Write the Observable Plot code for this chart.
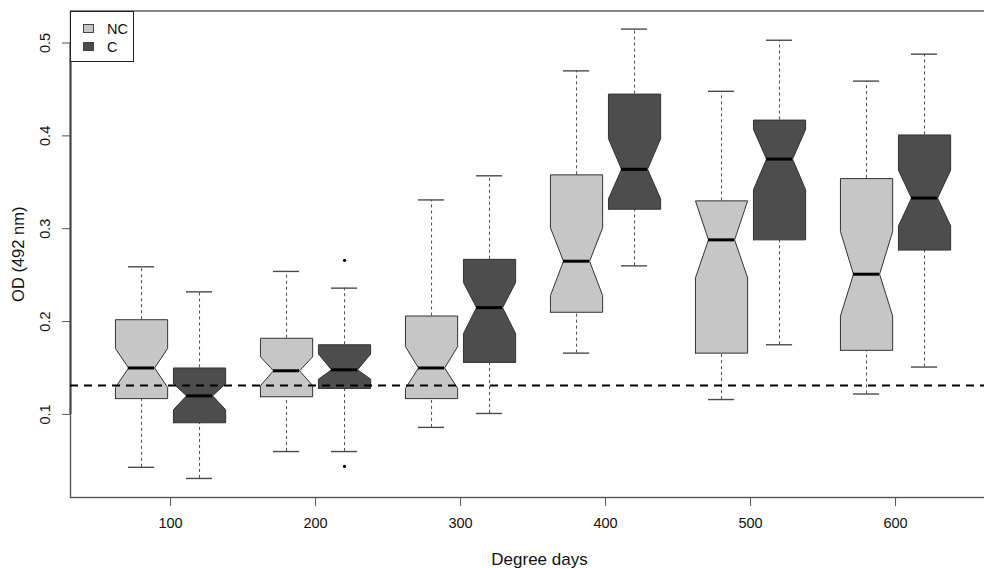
<!DOCTYPE html>
<html>
<head>
<meta charset="utf-8">
<script src="https://cdn.jsdelivr.net/npm/d3@7"></script>
<script src="https://cdn.jsdelivr.net/npm/@observablehq/plot@0.6"></script>
<style>
  html, body { margin: 0; padding: 0; background: #fff; overflow: hidden; }
  #wrap { position: relative; width: 984px; height: 569px; overflow: hidden; font-family: "Liberation Sans", Arial, sans-serif; }
  #chart svg { max-width: none !important; width: 1010px !important; height: 569px !important; display: block; }
  #legend { position: absolute; left: 70px; top: 10.5px; width: 64px; height: 51px; box-sizing: border-box;
            border: 1px solid #222; background: #fff; }
  .item { position: absolute; left: 0; height: 18px; width: 60px; }
  .sw { position: absolute; left: 12px; width: 11px; height: 9px; box-sizing: border-box; border: 1px solid #444; }
  .lab { position: absolute; left: 36px; font-size: 14.5px; line-height: 14px; color: #111; }
</style>
</head>
<body>
<div id="wrap"><div id="chart"></div><div id="legend"></div></div>
<script>
// ---- data ----
const degreeDays = [100, 200, 300, 400, 500, 600];
const seriesNames = ["NC", "C"];
const seriesFill = ["#c6c6c6", "#4d4d4d"];

// NC notched boxes
const ncWhiskerLo = [0.043, 0.060, 0.086, 0.166, 0.116, 0.122];
const ncQ1        = [0.117, 0.119, 0.117, 0.210, 0.166, 0.169];
const ncNotchLo   = [0.129, 0.131, 0.128, 0.228, 0.247, 0.206];
const ncMedian    = [0.150, 0.147, 0.150, 0.265, 0.288, 0.251];
const ncNotchHi   = [0.171, 0.162, 0.173, 0.301, 0.330, 0.297];
const ncQ3        = [0.202, 0.182, 0.206, 0.358, 0.330, 0.354];
const ncWhiskerHi = [0.259, 0.254, 0.331, 0.470, 0.448, 0.459];

// C notched boxes
const cWhiskerLo = [0.031, 0.060, 0.101, 0.260, 0.175, 0.151];
const cQ1        = [0.091, 0.128, 0.156, 0.321, 0.288, 0.277];
const cNotchLo   = [0.105, 0.138, 0.187, 0.332, 0.342, 0.303];
const cMedian    = [0.120, 0.148, 0.215, 0.364, 0.375, 0.333];
const cNotchHi   = [0.133, 0.165, 0.242, 0.397, 0.407, 0.363];
const cQ3        = [0.150, 0.175, 0.267, 0.445, 0.417, 0.401];
const cWhiskerHi = [0.232, 0.236, 0.357, 0.515, 0.503, 0.488];

// outliers
const outlierSeries = ["C", "C"];
const outlierDD     = [200, 200];
const outlierValue  = [0.266, 0.044];

const thresholdOD = 0.131;
const yTicks = [0.1, 0.2, 0.3, 0.4, 0.5];
const xLabel = "Degree days";
const yLabel = "OD (492 nm)";

// ---- build table ----
const offset = {NC: -20, C: 20};
const halfBox = 18, halfNotch = 9, halfCap = 9;
const boxes = [];
degreeDays.forEach((dd, i) => {
  boxes.push({s: "NC", dd, wl: ncWhiskerLo[i], q1: ncQ1[i], nl: ncNotchLo[i], med: ncMedian[i], nh: ncNotchHi[i], q3: ncQ3[i], wh: ncWhiskerHi[i]});
  boxes.push({s: "C", dd, wl: cWhiskerLo[i], q1: cQ1[i], nl: cNotchLo[i], med: cMedian[i], nh: cNotchHi[i], q3: cQ3[i], wh: cWhiskerHi[i]});
});
boxes.forEach(b => b.cx = b.dd + offset[b.s]);

const poly = [];
boxes.forEach((b, k) => {
  const L = b.cx - halfBox, R = b.cx + halfBox, l = b.cx - halfNotch, r = b.cx + halfNotch;
  const pts = [[L, b.q1], [L, b.nl], [l, b.med], [L, b.nh], [L, b.q3], [R, b.q3], [R, b.nh], [r, b.med], [R, b.nl], [R, b.q1], [L, b.q1]];
  pts.forEach(([x, y]) => poly.push({id: k, s: b.s, x, y}));
});
const outliers = outlierValue.map((v, i) => ({s: outlierSeries[i], x: outlierDD[i] + offset[outlierSeries[i]], y: v}));

const fillOf = s => seriesFill[seriesNames.indexOf(s)];
const gray = "#4a4a4a";

const chart = Plot.plot({
  width: 1010,
  height: 569,
  marginLeft: 70,
  marginRight: 2,
  marginTop: 10.5,
  marginBottom: 72,
  style: {fontFamily: "'Liberation Sans', Arial, sans-serif", fontSize: "14px", color: "#111", background: "#fff"},
  x: {domain: [31, 677.9]},
  y: {domain: [0.0105, 0.5345]},
  marks: [
    Plot.frame({stroke: "#555", strokeWidth: 1.4}),
    Plot.ruleX([0], {x: () => 31, y1: 0.1, y2: 0.5, stroke: "#444", strokeWidth: 2}),
    Plot.ruleX(boxes, {x: "cx", y1: "wl", y2: "q1", stroke: gray, strokeWidth: 1, strokeDasharray: "3,3"}),
    Plot.ruleX(boxes, {x: "cx", y1: "q3", y2: "wh", stroke: gray, strokeWidth: 1, strokeDasharray: "3,3"}),
    Plot.ruleY(boxes, {y: "wl", x1: d => d.cx - halfCap, x2: d => d.cx + halfCap, stroke: gray, strokeWidth: 1.4}),
    Plot.ruleY(boxes, {y: "wh", x1: d => d.cx - halfCap, x2: d => d.cx + halfCap, stroke: gray, strokeWidth: 1.4}),
    Plot.line(poly.filter(d => d.s === "NC"), {x: "x", y: "y", z: "id", fill: fillOf("NC"), stroke: "#333", strokeWidth: 1, curve: "linear"}),
    Plot.line(poly.filter(d => d.s === "C"), {x: "x", y: "y", z: "id", fill: fillOf("C"), stroke: "#333", strokeWidth: 1, curve: "linear"}),
    Plot.ruleY(boxes, {y: "med", x1: d => d.cx - halfNotch, x2: d => d.cx + halfNotch, stroke: "#000", strokeWidth: 3}),
    Plot.dot(outliers, {x: "x", y: "y", r: 1.6, fill: "#000", stroke: null}),
    Plot.ruleY([thresholdOD], {stroke: "#000", strokeWidth: 2, strokeDasharray: "8,6"}),
    Plot.axisX({ticks: degreeDays, tickSize: 9, tickPadding: 11, stroke: "#555", fontSize: 14.5, label: null, tickFormat: d => String(d)}),
    Plot.axisY({ticks: yTicks, tickSize: 8, stroke: "#555", label: null, tickFormat: () => ""}),
    Plot.text(yTicks, {y: d => d, text: d => String(d), frameAnchor: "left", dx: -25, rotate: -90, fontSize: 14.5, textAnchor: "middle", lineAnchor: "middle", fill: "#111"}),
    Plot.text([yLabel], {frameAnchor: "left", dx: -52, rotate: -90, fontSize: 16.5, textAnchor: "middle", lineAnchor: "middle", fill: "#111"}),
    Plot.text([xLabel], {frameAnchor: "bottom", dy: 55, fontSize: 17, textAnchor: "middle", lineAnchor: "top", fill: "#111"})
  ]
});
chart.style.maxWidth = "none";
chart.style.width = "1010px";
chart.style.height = "569px";
document.getElementById("chart").appendChild(chart);

const legend = document.getElementById("legend");
seriesNames.forEach((name, i) => {
  const item = document.createElement("div");
  item.className = "item";
  item.style.top = (8 + i * 18) + "px";
  item.innerHTML = `<div class="sw" style="top:4px;background:${seriesFill[i]}"></div><div class="lab" style="top:2px">${name}</div>`;
  legend.appendChild(item);
});
</script>
</body>
</html>
